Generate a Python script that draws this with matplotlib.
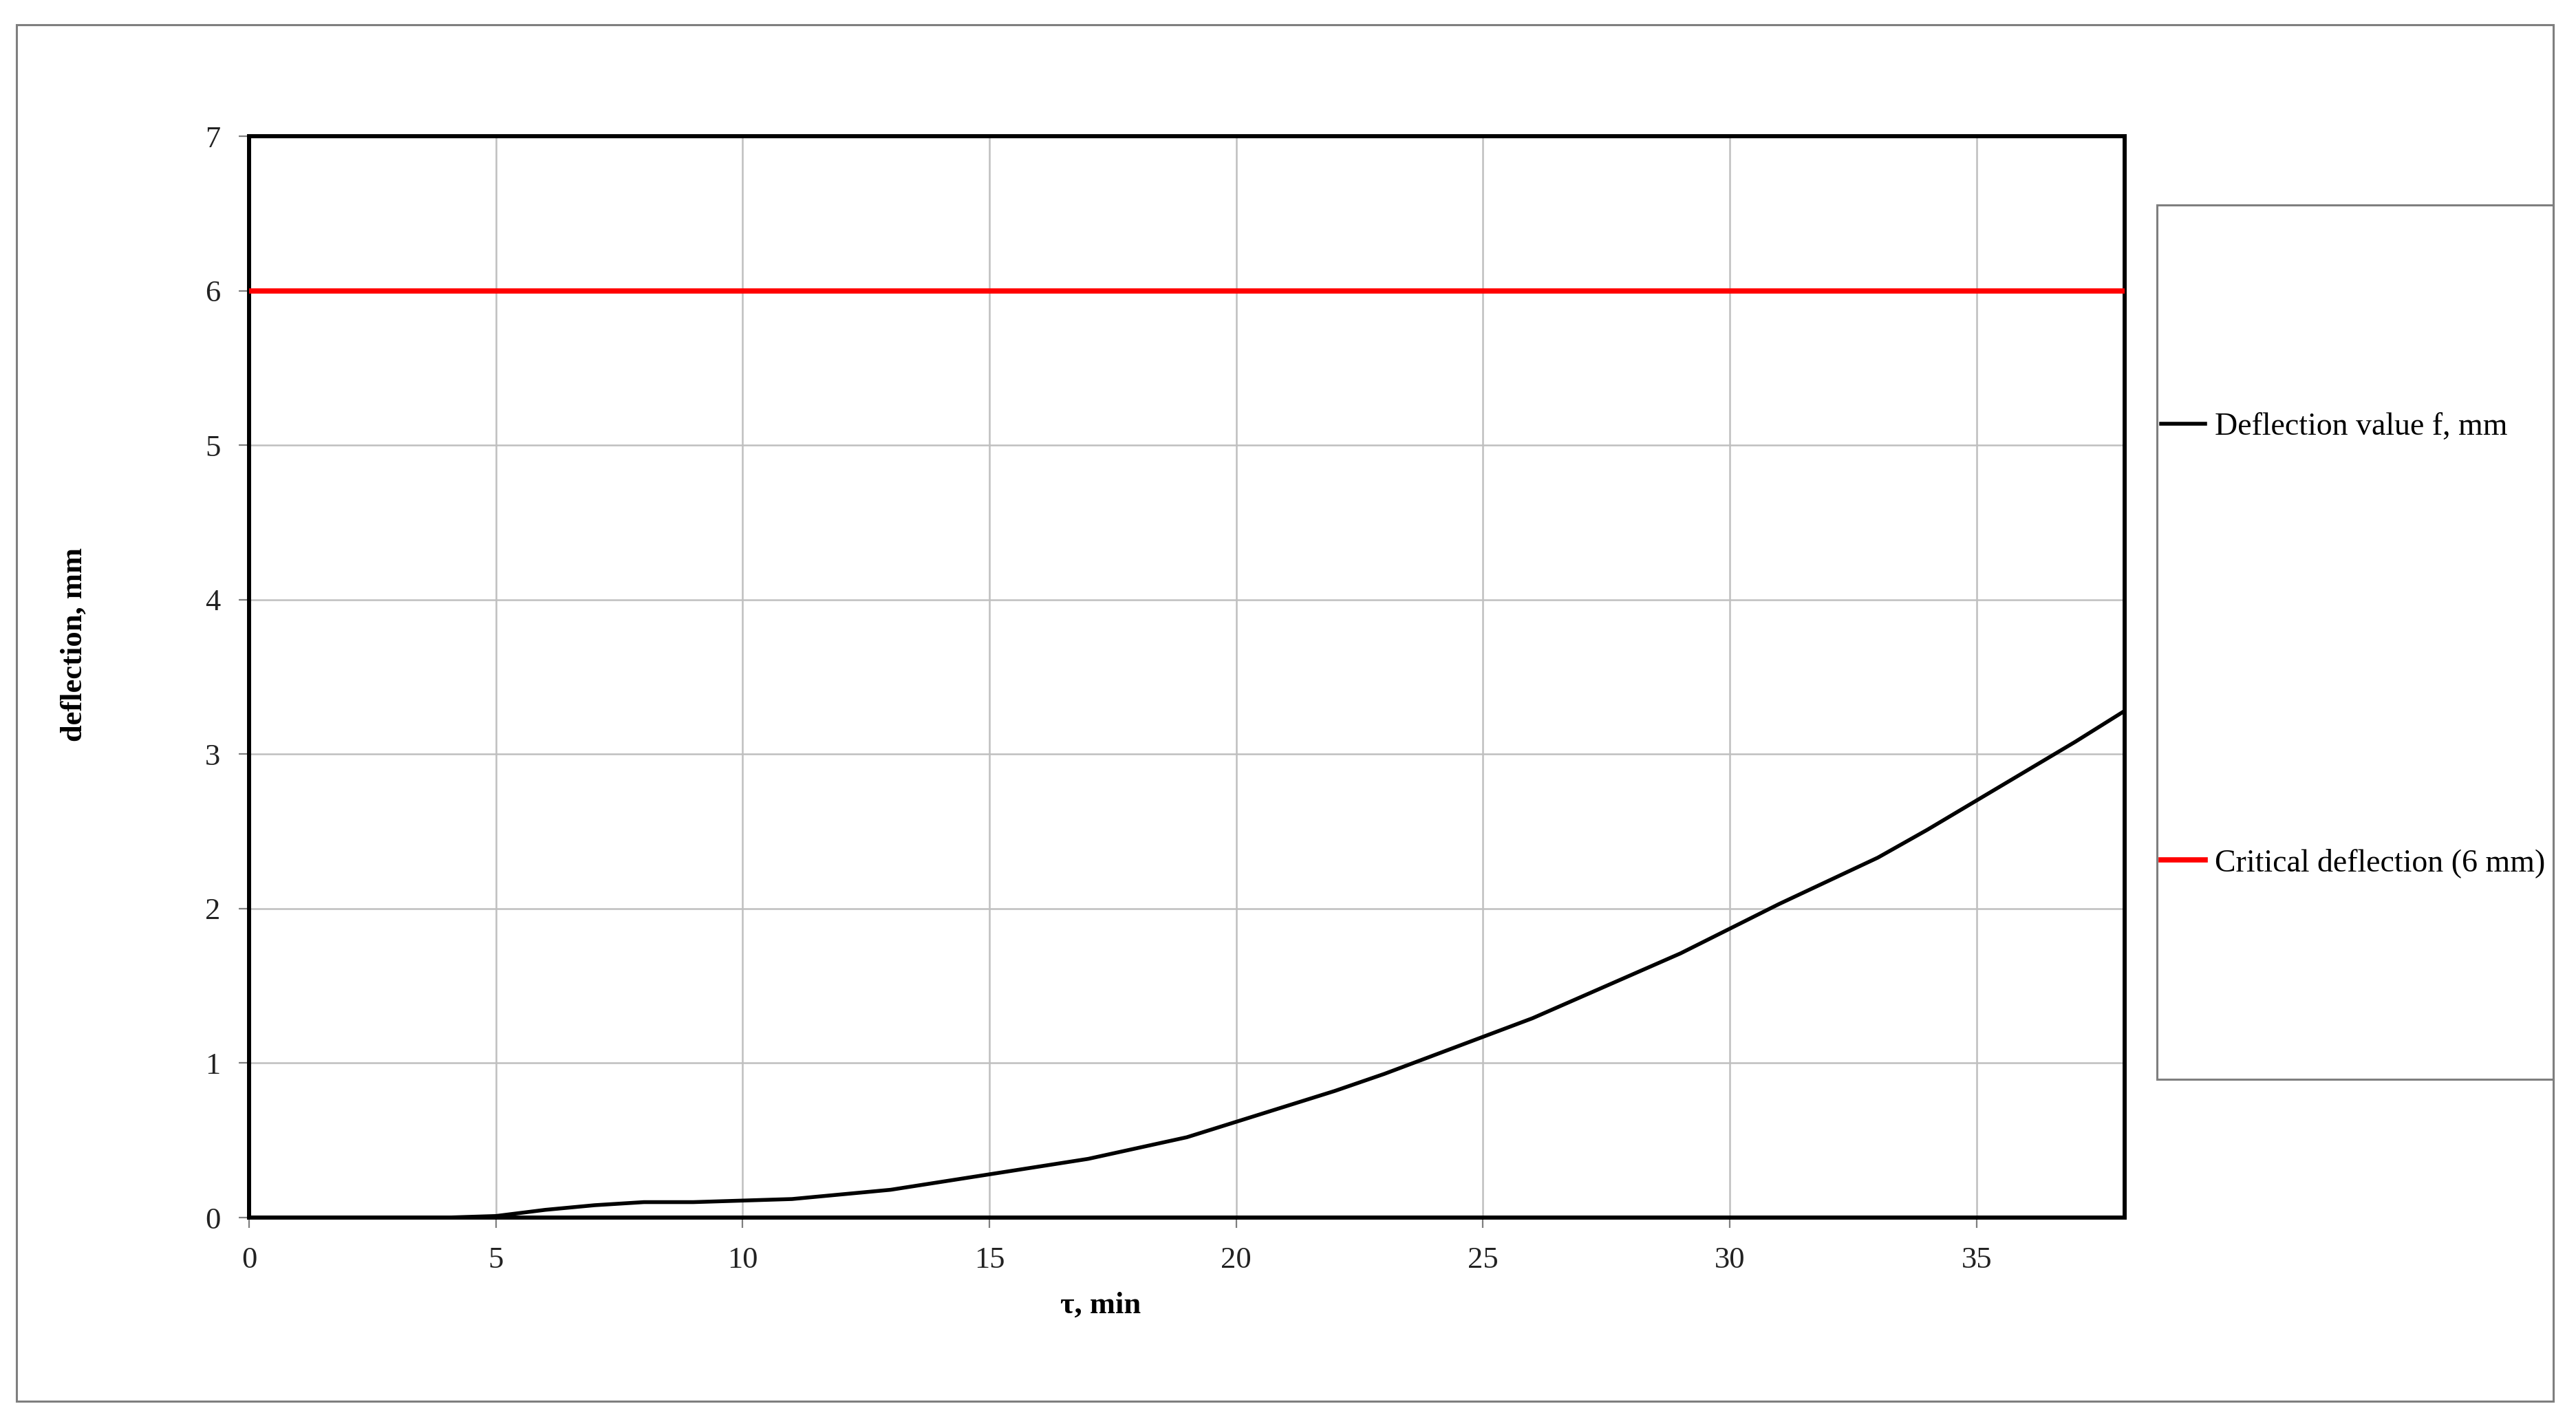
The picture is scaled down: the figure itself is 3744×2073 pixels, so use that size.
import matplotlib
matplotlib.use("Agg")
import matplotlib.pyplot as plt
from matplotlib.patches import Rectangle

plt.rcParams['font.family'] = ['Liberation Serif', 'DejaVu Serif']

# deflection curve
tau = [0, 1, 2, 3, 4, 5, 6, 7, 8, 9, 10, 11, 12, 13, 14, 15, 16, 17, 18, 19,
       20, 21, 22, 23, 24, 25, 26, 27, 28, 29, 30, 31, 32, 33, 34, 35, 36, 37, 38]
deflection = [0, 0, 0, 0, 0, 0.01, 0.05, 0.08, 0.10, 0.10, 0.11, 0.12, 0.15, 0.18,
              0.23, 0.28, 0.33, 0.38, 0.45, 0.52, 0.62, 0.72, 0.82, 0.93, 1.05,
              1.17, 1.29, 1.43, 1.57, 1.71, 1.87, 2.03, 2.18, 2.33, 2.51, 2.70,
              2.89, 3.08, 3.28]
critical = 6
x_ticks = [0, 5, 10, 15, 20, 25, 30, 35]
y_ticks = [0, 1, 2, 3, 4, 5, 6, 7]

W, H = 3744, 2073
fig = plt.figure(figsize=(W / 100, H / 100), dpi=100)

# outer frame
fig.patches.append(Rectangle((24 / W, 1 - 2037 / H), (3711 - 24) / W, (2037 - 36) / H,
                             transform=fig.transFigure, fill=False,
                             edgecolor='#7f7f7f', linewidth=2.2, zorder=0))

ax = fig.add_axes([362 / W, 1 - 1770 / H, (3088 - 362) / W, (1770 - 198) / H])

l1, = ax.plot(tau, deflection, color='black', linewidth=4, zorder=4,
              solid_joinstyle='round', label='Deflection value f, mm')
l2 = ax.axhline(critical, color='#ff0000', linewidth=5.5, zorder=4,
                label='Critical deflection (6 mm)')

ax.set_xlim(0, 38)
ax.set_ylim(0, 7)
ax.set_xticks(x_ticks)
ax.set_yticks(y_ticks)
ax.grid(True, color='#bfbfbf', linewidth=1.8)
ax.set_axisbelow(True)
for s in ax.spines.values():
    s.set_linewidth(4.3)
    s.set_color('black')
ax.tick_params(axis='both', labelsize=32, length=11, width=1.6, color='#7f7f7f',
               pad=19, labelcolor='#222222')

ax.set_xlabel('τ, min', fontsize=32, fontweight='bold')
ax.xaxis.label.set_va('center')
ax.xaxis.set_label_coords(0.454, -0.081)
ax.set_ylabel('deflection, mm', fontsize=32, fontweight='bold')
ax.yaxis.label.set_va('center')
ax.yaxis.set_label_coords(-0.0935, 0.53)

# legend box
lx0, lx1 = 3135 / W, 3711 / W
ly0, ly1 = 1 - 1569 / H, 1 - 298 / H
fig.patches.append(Rectangle((lx0, ly0), lx1 - lx0, ly1 - ly0, transform=fig.transFigure,
                             fill=False, edgecolor='#7f7f7f', linewidth=2.2, zorder=1))
fig.legend(handles=[l1, l2], loc='center left', bbox_to_anchor=(lx0 + 6 / W, 1 - 938 / H),
           frameon=False, fontsize=33, labelspacing=12.9, handlelength=1.4,
           handletextpad=0.3, borderpad=0, borderaxespad=0)

fig.savefig('out.png', dpi=100)
